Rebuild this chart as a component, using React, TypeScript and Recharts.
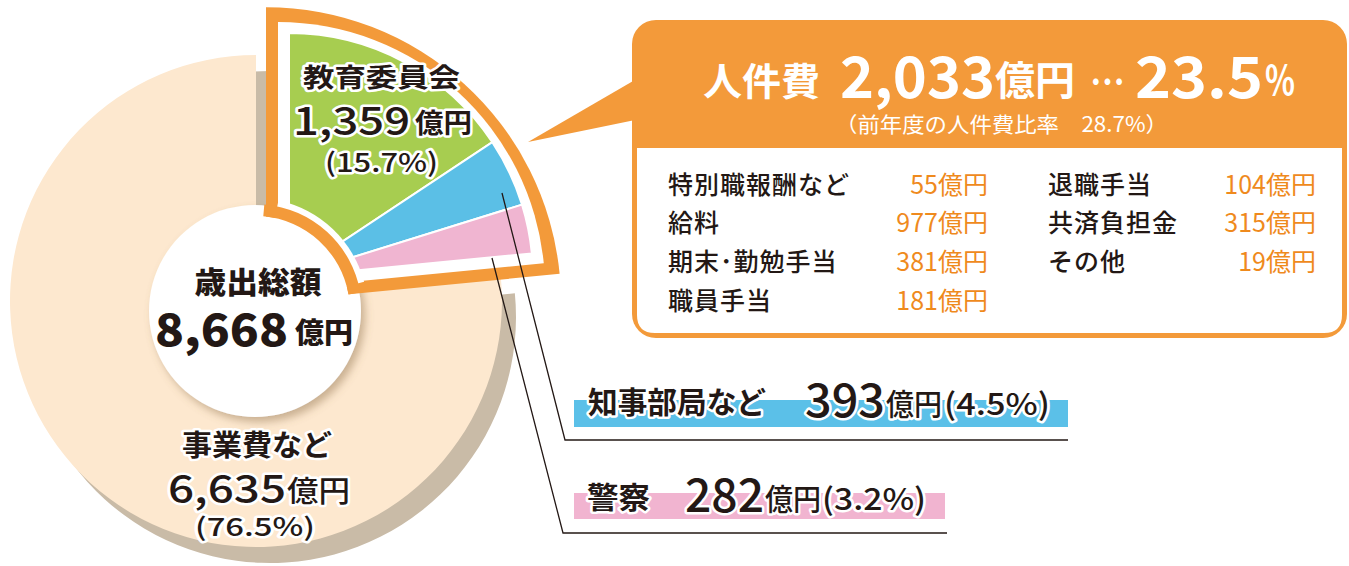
import { PieChart, Pie, Cell } from 'recharts'

// 歳出の内訳（億円）
const categories = ['教育委員会', '知事部局など', '警察', '事業費など']
const amounts = [1359, 393, 282, 6635]
const percents = [15.7, 4.5, 3.2, 76.5]

const totalLabel = '歳出総額'
const totalAmount = 8668

// 人件費
const personnelTotal = 2033
const personnelShare = 23.5
const prevShare = 28.7
const breakdownLabels = ['特別職報酬など', '給料', '期末･勤勉手当', '職員手当', '退職手当', '共済負担金', 'その他']
const breakdownValues = [55, 977, 381, 181, 104, 315, 19]

const COLORS = {
  green: '#a7cd50',
  blue: '#5bbfe6',
  pink: '#f0b5d1',
  beige: '#fde8cf',
  shadow: '#c9bba7',
  orange: '#f39a3a',
  value: '#ef8a1d',
  ink: '#231815',
}
const sliceColors = [COLORS.green, COLORS.blue, COLORS.pink, COLORS.beige]
const FONT = "'Noto Sans CJK JP', 'Noto Sans', sans-serif"

const yen = (n: number) => n.toLocaleString('en-US')

const pieData = categories.map((name, i) => ({ name, value: amounts[i] }))
const personnelSum = amounts[0] + amounts[1] + amounts[2]
const frameData = [
  { name: '人件費', value: personnelSum },
  { name: categories[3], value: amounts[3] },
]
const ringData = [{ name: totalLabel, value: totalAmount }]

type TProps = {
  x: number
  y: number
  size: number
  w?: number
  weight?: number
  fill?: string
  anchor?: 'start' | 'middle' | 'end'
  halo?: boolean
  spacing?: number
  children: React.ReactNode
}

function T({ x, y, size, w, weight = 700, fill = COLORS.ink, anchor = 'start', halo = false, spacing, children }: TProps) {
  return (
    <text
      x={x}
      y={y}
      fontSize={size}
      fontWeight={weight}
      fontFamily={FONT}
      fill={fill}
      textAnchor={anchor}
      dominantBaseline="central"
      textLength={w}
      lengthAdjust={w ? 'spacingAndGlyphs' : undefined}
      letterSpacing={spacing}
      stroke={halo ? '#fff' : undefined}
      strokeWidth={halo ? 5 : undefined}
      strokeLinejoin="round"
      paintOrder="stroke"
    >
      {children}
    </text>
  )
}

function Callout() {
  const rowY = [183, 221, 260, 299]
  return (
    <g>
      <polygon points="640,77 528,142 640,119" fill={COLORS.orange} />
      <rect x={632} y={20} width={715} height={318} rx={24} fill={COLORS.orange} />
      <path d="M637,148 H1342 V315 Q1342,333 1324,333 H655 Q637,333 637,315 Z" fill="#fff" />

      <T x={703} y={78} size={38} w={117} fill="#fff">人件費</T>
      <T x={840} y={73} size={57} w={155} fill="#fff">{yen(personnelTotal)}</T>
      <T x={995} y={78} size={40} w={80} fill="#fff">億円</T>
      <T x={1090} y={80} size={40} w={35} fill="#fff">…</T>
      <T x={1135} y={73} size={57} w={128} fill="#fff">{personnelShare}</T>
      <T x={1265} y={78} size={40} w={30} fill="#fff">%</T>
      <T x={835} y={123} size={21} w={333} weight={400} fill="#fff">
        {`（前年度の人件費比率　${prevShare}%）`}
      </T>

      {breakdownLabels.map((label, i) => {
        const col = i < 4 ? 0 : 1
        const row = i < 4 ? i : i - 4
        return (
          <g key={label}>
            <T x={col ? 1048 : 668} y={rowY[row]} size={25} weight={500} spacing={1}>
              {label}
            </T>
            <T x={col ? 1316 : 988} y={rowY[row]} size={25} weight={400} fill={COLORS.value} anchor="end">
              {`${breakdownValues[i]}億円`}
            </T>
          </g>
        )
      })}
    </g>
  )
}

function Annotations() {
  return (
    <svg
      width={1349}
      height={566}
      style={{ position: 'absolute', left: 0, top: 0, pointerEvents: 'none' }}
    >
      <defs>
        <filter id="wshadow" x="-20%" y="-20%" width="140%" height="140%">
          <feDropShadow dx={4} dy={5} stdDeviation={4} floodColor="#8a6a45" floodOpacity={0.45} />
        </filter>
      </defs>

      {/* 教育委員会 */}
      <T x={303} y={75} size={26} w={157} halo>{categories[0]}</T>
      <T x={293} y={118} size={39} w={117} weight={500} halo>{yen(amounts[0])}</T>
      <T x={415} y={121} size={27} w={57} halo>億円</T>
      <T x={325} y={160} size={26} w={113} weight={500} halo>{`(${percents[0]}%)`}</T>

      {/* 中央 */}
      <T x={258} y={280} size={30} w={127} weight={900} anchor="middle">{totalLabel}</T>
      <T x={155} y={327} size={44} w={133} weight={900}>{yen(totalAmount)}</T>
      <T x={295} y={331} size={28} w={58} weight={900}>億円</T>

      {/* 事業費など */}
      <T x={182} y={443} size={29} w={150} halo>{categories[3]}</T>
      <T x={168} y={486} size={39} w={118} weight={500} halo>{yen(amounts[3])}</T>
      <T x={287} y={489} size={29} w={63} weight={500} halo>億円</T>
      <T x={195} y={525} size={25} w={120} weight={500} halo>{`(${percents[3]}%)`}</T>

      {/* 引き出し線 */}
      <polyline points="502,193 565,440 1068,440" fill="none" stroke={COLORS.ink} strokeWidth={1.3} />
      <polyline points="492,258 563,533 947,533" fill="none" stroke={COLORS.ink} strokeWidth={1.3} />

      {/* 知事部局など */}
      <rect x={574} y={400} width={494} height={27} fill="#5bc0e8" />
      <T x={588} y={400} size={30} w={178} halo>{categories[1]}</T>
      <T x={805} y={397} size={46} w={80} weight={500} halo>{amounts[1]}</T>
      <T x={886} y={402} size={30} w={56} weight={500} halo>億円</T>
      <T x={944} y={402} size={30} w={106} weight={500} halo>{`(${percents[1]}%)`}</T>

      {/* 警察 */}
      <rect x={574} y={493} width={371} height={26} fill="#f1b4d0" />
      <T x={587} y={495} size={30} w={63} halo>{categories[2]}</T>
      <T x={685} y={492} size={46} w={79} weight={500} halo>{amounts[2]}</T>
      <T x={765} y={497} size={30} w={56} weight={500} halo>億円</T>
      <T x={822} y={497} size={30} w={104} weight={500} halo>{`(${percents[2]}%)`}</T>

      <Callout />
    </svg>
  )
}

export default function App() {
  const wedgeEnd = 90 - (360 * personnelSum) / (personnelSum + amounts[3])
  return (
    <div style={{ position: 'absolute', left: 0, top: 0, width: 1349, height: 566, background: '#fff' }}>
      <PieChart width={1349} height={566} margin={{ top: 0, right: 0, bottom: 0, left: 0 }}>
        {/* 影 */}
        <Pie data={pieData} dataKey="value" cx={270} cy={317} outerRadius={246} startAngle={90} endAngle={-270} stroke="none" isAnimationActive={false}>
          {pieData.map((d, i) => (
            <Cell key={d.name} fill={i === 3 ? COLORS.shadow : 'none'} />
          ))}
        </Pie>
        {/* 事業費など */}
        <Pie data={pieData} dataKey="value" cx={256} cy={301} outerRadius={246} startAngle={90} endAngle={-270} stroke="none" isAnimationActive={false}>
          {pieData.map((d, i) => (
            <Cell key={d.name} fill={i === 3 ? COLORS.beige : 'none'} />
          ))}
        </Pie>
        {/* 中央の円 */}
        <Pie data={ringData} dataKey="value" cx={255} cy={311} outerRadius={106} startAngle={0} endAngle={360} stroke="none" isAnimationActive={false}>
          <Cell fill="#fff" filter="url(#wshadow)" />
        </Pie>
        {/* 人件費の枠 */}
        <Pie data={frameData} dataKey="value" cx={266} cy={302.3} outerRadius={295} startAngle={90} endAngle={-270} stroke="none" isAnimationActive={false}>
          {frameData.map((d, i) => (
            <Cell key={d.name} fill={i === 0 ? COLORS.orange : 'none'} />
          ))}
        </Pie>
        <Pie data={frameData} dataKey="value" cx={278} cy={289.1} outerRadius={267} startAngle={90} endAngle={-270} stroke="none" isAnimationActive={false}>
          {frameData.map((d, i) => (
            <Cell key={d.name} fill={i === 0 ? '#fff' : 'none'} />
          ))}
        </Pie>
        {/* 切り出した扇形 */}
        <Pie data={pieData} dataKey="value" cx={289} cy={277} outerRadius={244} startAngle={90} endAngle={-270} isAnimationActive={false}>
          {pieData.map((d, i) => (
            <Cell key={d.name} fill={i < 3 ? sliceColors[i] : 'none'} stroke={i < 3 ? '#fff' : 'none'} strokeWidth={2} />
          ))}
        </Pie>
        {/* 中心付近の切り抜き */}
        <Pie data={ringData} dataKey="value" cx={255} cy={311} outerRadius={95} startAngle={0} endAngle={360} stroke="none" fill="#fff" isAnimationActive={false} />
        <Pie data={frameData.slice(0, 1)} dataKey="value" cx={255} cy={311} outerRadius={113} startAngle={78} endAngle={wedgeEnd + 9.5} stroke="none" fill="#fff" isAnimationActive={false} />
        <Pie data={frameData.slice(0, 1)} dataKey="value" cx={255} cy={311} innerRadius={95} outerRadius={107} startAngle={85} endAngle={wedgeEnd + 4.5} stroke="none" fill={COLORS.orange} isAnimationActive={false} />
      </PieChart>
      <Annotations />
    </div>
  )
}
